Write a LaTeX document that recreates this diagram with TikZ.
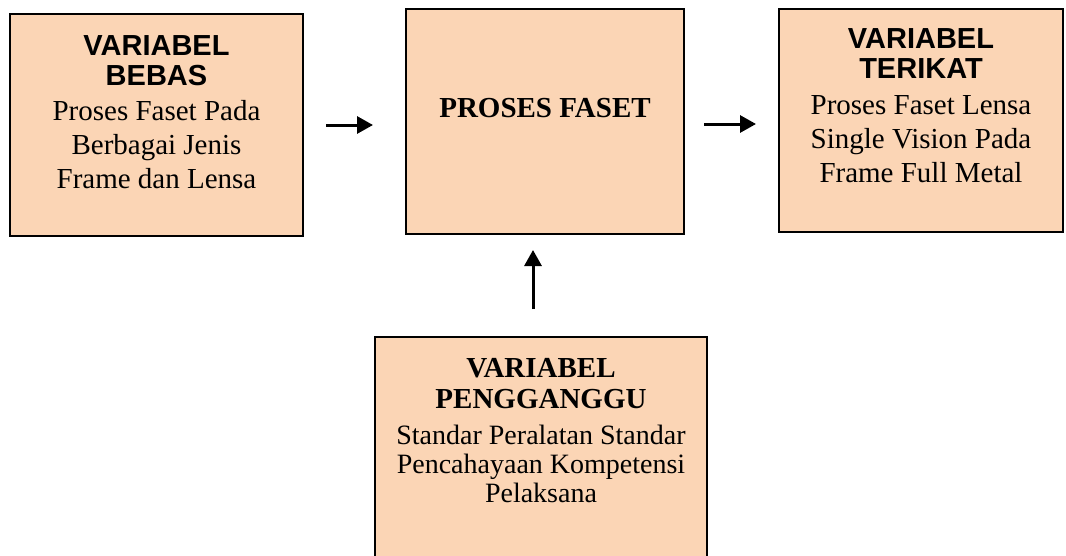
\documentclass[tikz,border=0pt]{standalone}
\usepackage{fontspec}
\setmainfont{Liberation Serif}
\newfontfamily\hsans{Liberation Sans}
\usetikzlibrary{arrows.meta}
\definecolor{peach}{RGB}{251,213,181}
\tikzset{
  box/.style={draw=black, line width=2pt, fill=peach, rectangle, inner sep=0pt},
  hdrsans/.style={inner sep=0pt, align=center, font=\hsans\bfseries\fontsize{29}{30}\selectfont},
  hdrserif/.style={inner sep=0pt, align=center, font=\bfseries\fontsize{29}{31}\selectfont},
  body/.style={inner sep=0pt, align=center, font=\fontsize{29}{34}\selectfont},
  bodysmall/.style={inner sep=0pt, align=center, font=\fontsize{28}{29}\selectfont},
  arr/.style={line width=3pt, -{Triangle[length=16pt,width=17pt]}}
}
\begin{document}
\begin{tikzpicture}[x=1pt,y=-1pt]
\useasboundingbox (0,0) rectangle (1066,555);
\clip (0,0) rectangle (1066,555);
% boxes
\node[box, minimum width=293pt, minimum height=222pt] (b1) at (156.5,125) {};
\node[box, minimum width=278pt, minimum height=225pt] (b2) at (545,121.5) {};
\node[box, minimum width=284pt, minimum height=223pt] (b3) at (921,120.5) {};
\node[box, minimum width=332pt, minimum height=238pt] (b4) at (541,456) {};
% texts
\node[hdrsans, anchor=north] (h1) at (156.5,35) {VARIABEL\\BEBAS};
\node[body, anchor=north] (t1) at (156.5,100) {Proses Faset Pada\\Berbagai Jenis\\Frame dan Lensa};
\node[inner sep=0pt, anchor=base, font=\bfseries\fontsize{29}{34}\selectfont] (t2) at (545,117) {PROSES FASET};
\node[hdrsans, anchor=north] (h3) at (921,28) {VARIABEL\\TERIKAT};
\node[body, anchor=north] (t3) at (921,95) {Proses Faset Lensa\\Single Vision Pada\\Frame Full Metal};
\node[hdrserif, anchor=north] (h4) at (541,358) {VARIABEL\\PENGGANGGU};
\node[bodysmall, anchor=north] (t4) at (541,425) {Standar Peralatan Standar\\Pencahayaan Kompetensi\\Pelaksana};
% arrows
\draw[arr, shorten <=22pt, shorten >=32pt] (b1.east) -- (b1.east -| b2.west);
\draw[arr, shorten <=19pt, shorten >=22pt] ([yshift=-2.5pt]b2.east) -- ([yshift=-2.5pt]b2.east -| b3.west);
\draw[arr, shorten <=27pt, shorten >=15pt] ([xshift=-8pt]b4.north) -- ([xshift=-8pt]b4.north |- b2.south);
\end{tikzpicture}
\end{document}
